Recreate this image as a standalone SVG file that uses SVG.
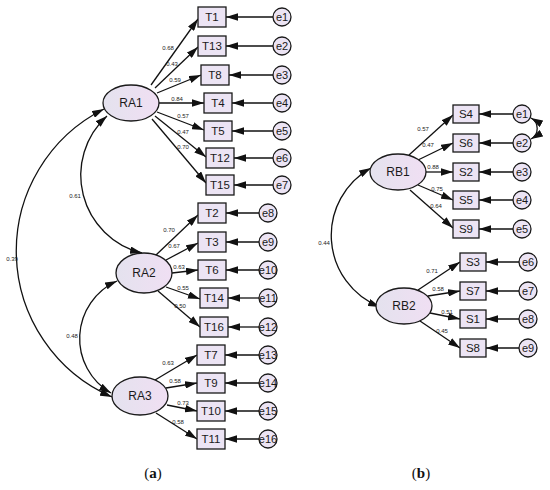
<svg xmlns="http://www.w3.org/2000/svg" width="550" height="490" viewBox="0 0 550 490">
<style>
.lv{fill:url(#gl);stroke:#1a1a1a;stroke-width:1.3}
.ob{fill:#ece4f4;stroke:#1a1a1a;stroke-width:1.3}
.er{fill:#ece4f4;stroke:#1a1a1a;stroke-width:1.3}
.t{font-family:"Liberation Sans",Arial,sans-serif;fill:#1a1a1a;text-anchor:middle}
.lt{font-size:12px}
.bt{font-size:11.5px}
.et{font-size:11px}
.nl{font-family:"Liberation Sans",Arial,sans-serif;font-size:6px;fill:#222;text-anchor:middle}
.c line,.c path{stroke:#111;stroke-width:1.3;fill:none}
.a{marker-end:url(#ah)}
.d{marker-start:url(#ah);marker-end:url(#ah)}
.cap{font-family:"Liberation Serif","Times New Roman",serif;font-size:15px;fill:#111;text-anchor:middle}
</style>
<defs>
<linearGradient id="gl" x1="0" y1="0" x2="1" y2="0">
<stop offset="0" stop-color="#e4e2ee"/>
<stop offset="1" stop-color="#f0dff3"/>
</linearGradient>
<marker id="ah" viewBox="0 0 10 10" refX="10" refY="5" markerWidth="12" markerHeight="7.5" markerUnits="userSpaceOnUse" orient="auto-start-reverse" preserveAspectRatio="none">
<path d="M0,0 L10,5 L0,10 z" fill="#111"/>
</marker>
</defs>
<rect width="550" height="490" fill="#fff"/>

<g class="c" id="connectors">
<!-- RA1 loadings -->
<line class="a" x1="151" y1="85" x2="198" y2="19"/>
<line class="a" x1="155" y1="88" x2="198" y2="47"/>
<line class="a" x1="157" y1="93" x2="201" y2="75"/>
<line class="a" x1="159" y1="103" x2="204" y2="103"/>
<line class="a" x1="157" y1="112" x2="204" y2="130"/>
<line class="a" x1="155" y1="116" x2="206" y2="157"/>
<line class="a" x1="152" y1="119" x2="206" y2="183"/>
<!-- errors RA1 -->
<line class="a" x1="273" y1="17" x2="226" y2="17"/>
<line class="a" x1="273" y1="46" x2="226" y2="46"/>
<line class="a" x1="273" y1="75" x2="229" y2="75"/>
<line class="a" x1="273" y1="103" x2="232" y2="103"/>
<line class="a" x1="273" y1="131" x2="232" y2="131"/>
<line class="a" x1="273" y1="158" x2="234" y2="158"/>
<line class="a" x1="273" y1="185" x2="234" y2="185"/>
<!-- RA2 loadings -->
<line class="a" x1="156" y1="255" x2="198" y2="215"/>
<line class="a" x1="166" y1="260" x2="198" y2="243"/>
<line class="a" x1="172" y1="273" x2="198" y2="270"/>
<line class="a" x1="166" y1="287" x2="200" y2="299"/>
<line class="a" x1="158" y1="291" x2="200" y2="327"/>
<line class="a" x1="259" y1="213" x2="226" y2="213"/>
<line class="a" x1="259" y1="242" x2="226" y2="242"/>
<line class="a" x1="259" y1="270" x2="226" y2="270"/>
<line class="a" x1="259" y1="298" x2="228" y2="298"/>
<line class="a" x1="259" y1="327" x2="228" y2="327"/>
<!-- RA3 loadings -->
<line class="a" x1="155" y1="380" x2="197" y2="355"/>
<line class="a" x1="166" y1="388" x2="197" y2="383"/>
<line class="a" x1="167" y1="405" x2="197" y2="411"/>
<line class="a" x1="156" y1="413" x2="197" y2="439"/>
<line class="a" x1="259" y1="355" x2="225" y2="355"/>
<line class="a" x1="259" y1="383" x2="225" y2="383"/>
<line class="a" x1="259" y1="411" x2="225" y2="411"/>
<line class="a" x1="259" y1="439" x2="225" y2="439"/>
<!-- covariances left -->
<path class="d" d="M104,109 A159,159 0 0 0 112,397"/>
<path class="d" d="M107,116 A80,80 0 0 0 142,253"/>
<path class="d" d="M117,281 A63,63 0 0 0 111,393"/>
<!-- RB1 loadings -->
<line class="a" x1="409" y1="155" x2="453" y2="115"/>
<line class="a" x1="418" y1="160" x2="453" y2="143"/>
<line class="a" x1="426" y1="172" x2="453" y2="172"/>
<line class="a" x1="418" y1="185" x2="453" y2="200"/>
<line class="a" x1="410" y1="190" x2="453" y2="228"/>
<line class="a" x1="513" y1="114" x2="479" y2="114"/>
<line class="a" x1="513" y1="143" x2="479" y2="143"/>
<line class="a" x1="513" y1="172" x2="479" y2="172"/>
<line class="a" x1="513" y1="200" x2="479" y2="200"/>
<line class="a" x1="513" y1="229" x2="479" y2="229"/>
<!-- RB2 loadings -->
<line class="a" x1="418" y1="290" x2="460" y2="262"/>
<line class="a" x1="428" y1="296" x2="460" y2="291"/>
<line class="a" x1="430" y1="313" x2="460" y2="319"/>
<line class="a" x1="420" y1="321" x2="460" y2="348"/>
<line class="a" x1="519" y1="262" x2="486" y2="262"/>
<line class="a" x1="519" y1="291" x2="486" y2="291"/>
<line class="a" x1="519" y1="319" x2="486" y2="319"/>
<line class="a" x1="519" y1="348" x2="486" y2="348"/>
<!-- covariances right -->
<path class="d" d="M371,168 A77,77 0 0 0 380,307"/>
<path class="d" d="M531,118 A12,12 0 0 1 531,139"/>
</g>

<g id="loadings">
<text class="nl" x="168" y="50">0.68</text>
<text class="nl" x="172" y="66">0.43</text>
<text class="nl" x="175" y="82">0.59</text>
<text class="nl" x="177" y="101">0.84</text>
<text class="nl" x="183" y="118">0.57</text>
<text class="nl" x="183" y="134">0.47</text>
<text class="nl" x="183" y="149">0.70</text>
<text class="nl" x="169" y="232">0.70</text>
<text class="nl" x="174" y="248">0.67</text>
<text class="nl" x="179" y="269">0.63</text>
<text class="nl" x="183" y="290">0.55</text>
<text class="nl" x="180" y="308">0.50</text>
<text class="nl" x="168" y="365">0.63</text>
<text class="nl" x="175" y="383">0.58</text>
<text class="nl" x="183" y="405">0.73</text>
<text class="nl" x="178" y="424">0.58</text>
<text class="nl" x="75" y="198">0.61</text>
<text class="nl" x="12" y="261">0.39</text>
<text class="nl" x="72" y="338">0.48</text>
<text class="nl" x="423" y="131">0.57</text>
<text class="nl" x="428" y="147">0.47</text>
<text class="nl" x="433" y="169">0.88</text>
<text class="nl" x="437" y="191">0.75</text>
<text class="nl" x="436" y="208">0.64</text>
<text class="nl" x="432" y="273">0.71</text>
<text class="nl" x="438" y="291">0.58</text>
<text class="nl" x="447" y="314">0.51</text>
<text class="nl" x="442" y="333">0.45</text>
<text class="nl" x="324" y="245">0.44</text>
</g>

<g id="RA1"><ellipse class="lv" cx="131" cy="103" rx="28" ry="18"/><text class="t lt" x="131" y="107">RA1</text></g>
<g id="RA2"><ellipse class="lv" cx="144" cy="273" rx="28" ry="20"/><text class="t lt" x="144" y="277">RA2</text></g>
<g id="RA3"><ellipse class="lv" cx="140" cy="396" rx="28" ry="19"/><text class="t lt" x="140" y="400">RA3</text></g>
<g id="RB1"><ellipse class="lv" cx="398" cy="172" rx="28" ry="18"/><text class="t lt" x="398" y="176">RB1</text></g>
<g id="RB2"><ellipse class="lv" cx="404" cy="306" rx="28" ry="18"/><text class="t lt" x="404" y="310">RB2</text></g>

<g id="T1"><rect class="ob" x="198" y="7" width="28" height="20"/><text class="t bt" x="212" y="21">T1</text></g>
<g id="T13"><rect class="ob" x="198" y="36" width="28" height="20"/><text class="t bt" x="212" y="50">T13</text></g>
<g id="T8"><rect class="ob" x="201" y="65" width="28" height="20"/><text class="t bt" x="215" y="79">T8</text></g>
<g id="T4"><rect class="ob" x="204" y="93" width="28" height="20"/><text class="t bt" x="218" y="107">T4</text></g>
<g id="T5"><rect class="ob" x="204" y="121" width="28" height="20"/><text class="t bt" x="218" y="135">T5</text></g>
<g id="T12"><rect class="ob" x="206" y="148" width="28" height="20"/><text class="t bt" x="220" y="162">T12</text></g>
<g id="T15"><rect class="ob" x="206" y="175" width="28" height="20"/><text class="t bt" x="220" y="189">T15</text></g>
<g id="T2"><rect class="ob" x="198" y="203" width="28" height="20"/><text class="t bt" x="212" y="217">T2</text></g>
<g id="T3"><rect class="ob" x="198" y="232" width="28" height="20"/><text class="t bt" x="212" y="246">T3</text></g>
<g id="T6"><rect class="ob" x="198" y="260" width="28" height="20"/><text class="t bt" x="212" y="274">T6</text></g>
<g id="T14"><rect class="ob" x="200" y="288" width="28" height="20"/><text class="t bt" x="214" y="302">T14</text></g>
<g id="T16"><rect class="ob" x="200" y="317" width="28" height="20"/><text class="t bt" x="214" y="331">T16</text></g>
<g id="T7"><rect class="ob" x="197" y="345" width="28" height="20"/><text class="t bt" x="211" y="359">T7</text></g>
<g id="T9"><rect class="ob" x="197" y="373" width="28" height="20"/><text class="t bt" x="211" y="387">T9</text></g>
<g id="T10"><rect class="ob" x="197" y="401" width="28" height="20"/><text class="t bt" x="211" y="415">T10</text></g>
<g id="T11"><rect class="ob" x="197" y="429" width="28" height="20"/><text class="t bt" x="211" y="443">T11</text></g>

<g id="S4"><rect class="ob" x="453" y="105" width="26" height="18"/><text class="t bt" x="466" y="118">S4</text></g>
<g id="S6"><rect class="ob" x="453" y="134" width="26" height="18"/><text class="t bt" x="466" y="147">S6</text></g>
<g id="S2"><rect class="ob" x="453" y="163" width="26" height="18"/><text class="t bt" x="466" y="176">S2</text></g>
<g id="S5"><rect class="ob" x="453" y="191" width="26" height="18"/><text class="t bt" x="466" y="204">S5</text></g>
<g id="S9"><rect class="ob" x="453" y="220" width="26" height="18"/><text class="t bt" x="466" y="233">S9</text></g>
<g id="S3"><rect class="ob" x="460" y="253" width="26" height="18"/><text class="t bt" x="473" y="266">S3</text></g>
<g id="S7"><rect class="ob" x="460" y="282" width="26" height="18"/><text class="t bt" x="473" y="295">S7</text></g>
<g id="S1"><rect class="ob" x="460" y="310" width="26" height="18"/><text class="t bt" x="473" y="323">S1</text></g>
<g id="S8"><rect class="ob" x="460" y="339" width="26" height="18"/><text class="t bt" x="473" y="352">S8</text></g>

<g id="ea1"><circle class="er" cx="282" cy="17" r="9"/><text class="t et" x="282" y="21">e1</text></g>
<g id="ea2"><circle class="er" cx="282" cy="46" r="9"/><text class="t et" x="282" y="50">e2</text></g>
<g id="ea3"><circle class="er" cx="282" cy="75" r="9"/><text class="t et" x="282" y="79">e3</text></g>
<g id="ea4"><circle class="er" cx="282" cy="103" r="9"/><text class="t et" x="282" y="107">e4</text></g>
<g id="ea5"><circle class="er" cx="282" cy="131" r="9"/><text class="t et" x="282" y="135">e5</text></g>
<g id="ea6"><circle class="er" cx="282" cy="158" r="9"/><text class="t et" x="282" y="162">e6</text></g>
<g id="ea7"><circle class="er" cx="282" cy="185" r="9"/><text class="t et" x="282" y="189">e7</text></g>
<g id="ea8"><circle class="er" cx="268" cy="213" r="9"/><text class="t et" x="268" y="217">e8</text></g>
<g id="ea9"><circle class="er" cx="268" cy="242" r="9"/><text class="t et" x="268" y="246">e9</text></g>
<g id="ea10"><circle class="er" cx="268" cy="270" r="9"/><text class="t et" x="268" y="274">e10</text></g>
<g id="ea11"><circle class="er" cx="268" cy="298" r="9"/><text class="t et" x="268" y="302">e11</text></g>
<g id="ea12"><circle class="er" cx="268" cy="327" r="9"/><text class="t et" x="268" y="331">e12</text></g>
<g id="ea13"><circle class="er" cx="268" cy="355" r="9"/><text class="t et" x="268" y="359">e13</text></g>
<g id="ea14"><circle class="er" cx="268" cy="383" r="9"/><text class="t et" x="268" y="387">e14</text></g>
<g id="ea15"><circle class="er" cx="268" cy="411" r="9"/><text class="t et" x="268" y="415">e15</text></g>
<g id="ea16"><circle class="er" cx="268" cy="439" r="9"/><text class="t et" x="268" y="443">e16</text></g>

<g id="eb1"><circle class="er" cx="522" cy="114" r="9"/><text class="t et" x="522" y="118">e1</text></g>
<g id="eb2"><circle class="er" cx="522" cy="143" r="9"/><text class="t et" x="522" y="147">e2</text></g>
<g id="eb3"><circle class="er" cx="522" cy="172" r="9"/><text class="t et" x="522" y="176">e3</text></g>
<g id="eb4"><circle class="er" cx="522" cy="200" r="9"/><text class="t et" x="522" y="204">e4</text></g>
<g id="eb5"><circle class="er" cx="522" cy="229" r="9"/><text class="t et" x="522" y="233">e5</text></g>
<g id="eb6"><circle class="er" cx="528" cy="262" r="9"/><text class="t et" x="528" y="266">e6</text></g>
<g id="eb7"><circle class="er" cx="528" cy="291" r="9"/><text class="t et" x="528" y="295">e7</text></g>
<g id="eb8"><circle class="er" cx="528" cy="319" r="9"/><text class="t et" x="528" y="323">e8</text></g>
<g id="eb9"><circle class="er" cx="528" cy="348" r="9"/><text class="t et" x="528" y="352">e9</text></g>

<g id="captions">
<text class="cap" x="153" y="478">(<tspan font-weight="bold">a</tspan>)</text>
<text class="cap" x="421" y="478">(<tspan font-weight="bold">b</tspan>)</text>
</g>
</svg>
